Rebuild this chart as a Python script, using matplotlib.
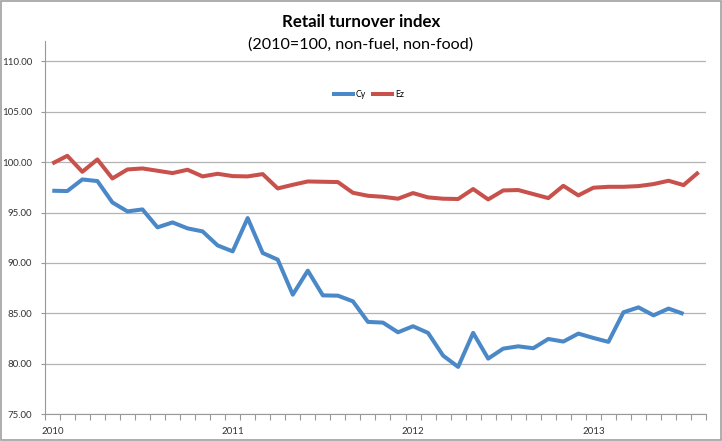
import matplotlib.pyplot as plt
from matplotlib.patches import Rectangle

# monthly data, Jan 2010 - Aug 2013
cy = [97.16, 97.13, 98.28, 98.12, 96.0, 95.11, 95.31, 93.53, 94.02, 93.43, 93.13, 91.74,
      91.15, 94.45, 90.99, 90.33, 86.86, 89.24, 86.79, 86.76, 86.2, 84.16, 84.09, 83.13,
      83.73, 83.07, 80.82, 79.7, 83.07, 80.52, 81.51, 81.74, 81.55, 82.47, 82.21, 83.0,
      82.57, 82.18, 85.11, 85.6, 84.81, 85.48, 84.95]
ez = [99.86, 100.62, 99.04, 100.26, 98.38, 99.27, 99.37, 99.14, 98.91, 99.24, 98.58, 98.84,
      98.61, 98.58, 98.81, 97.39, 97.75, 98.08, 98.05, 98.02, 96.96, 96.66, 96.56, 96.37,
      96.93, 96.5, 96.37, 96.34, 97.33, 96.3, 97.19, 97.23, 96.83, 96.43, 97.65, 96.7,
      97.46, 97.55, 97.55, 97.62, 97.82, 98.15, 97.72, 99.0]
n_months = 44
year_labels = ["2010", "2011", "2012", "2013"]
y_ticks = [75, 80, 85, 90, 95, 100, 105, 110]

plt.rcParams['font.family'] = ['Lato', 'DejaVu Sans']

fig = plt.figure(figsize=(7.22, 4.41), dpi=100)
ax = fig.add_axes([0.062, 0.0605, 0.916, 0.8465])

ax.plot(range(len(cy)), cy, color="#4A88C7", lw=2.9, label="Cy", solid_capstyle="butt")
ax.plot(range(len(ez)), ez, color="#C8514C", lw=2.9, label="Ez", solid_capstyle="butt")

ax.set_xlim(-0.5, n_months - 0.5)
ax.set_ylim(75, 112)
ax.set_yticks(y_ticks)
ax.set_yticklabels(["%.2f" % v for v in y_ticks])
ax.yaxis.grid(True, color="#b3b3b3", lw=0.9)
ax.set_axisbelow(True)

# year labels at january positions, ticks between months
ax.set_xticks([0, 12, 24, 36])
ax.set_xticklabels(year_labels)
ax.set_xticks([i - 0.5 for i in range(n_months + 1)], minor=True)
ax.tick_params(axis="x", which="major", length=0, labelsize=7, colors="#333333", pad=9)
ax.tick_params(axis="x", which="minor", length=4, color="#999999", width=0.8)
ax.tick_params(axis="y", length=3, color="#999999", labelsize=7, labelcolor="#333333", pad=6)

for s in ["top", "right"]:
    ax.spines[s].set_visible(False)
ax.spines["left"].set_color("#999999")
ax.spines["bottom"].set_color("#999999")

fig.text(0.5, 0.949, "Retail turnover index", ha="center", va="center",
         fontsize=12.2, fontweight="bold", color="#000000")
fig.text(0.5, 0.9, "(2010=100, non-fuel, non-food)", ha="center", va="center",
         fontsize=11.6, color="#000000")

leg = ax.legend(loc="center", bbox_to_anchor=(0.51, 0.785), bbox_transform=fig.transFigure,
                ncol=2, frameon=False, fontsize=6.3, handlelength=2.6, handletextpad=0.15,
                columnspacing=0.6)

fig.patches.append(Rectangle((0.001, 0.002), 0.997, 0.996, transform=fig.transFigure,
                             fill=False, edgecolor="#a0a0a0", lw=1.2))

fig.savefig("out.png", dpi=100)
